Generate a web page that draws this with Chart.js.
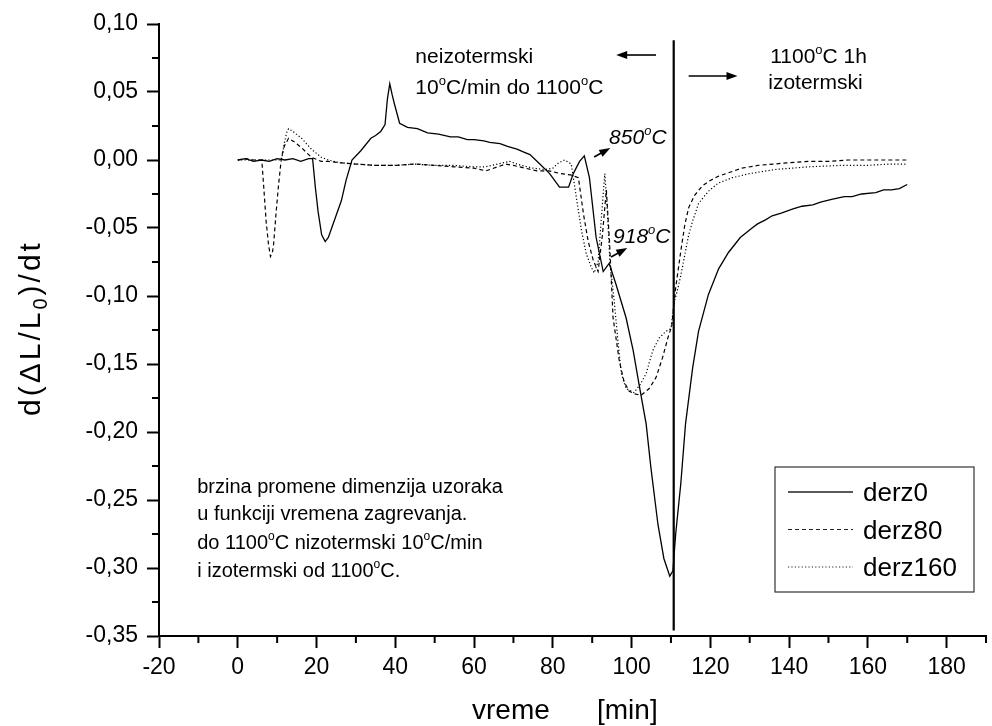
<!DOCTYPE html>
<html>
<head>
<meta charset="utf-8">
<script src="https://cdn.jsdelivr.net/npm/chart.js@4/dist/chart.umd.min.js"></script>
<style>
  body { margin: 0; background: #fff; }
  #wrap { width: 992px; height: 726px; }
</style>
</head>
<body>
<div id="wrap"><canvas id="c" width="992" height="726"></canvas></div>
<script>
// time [min] and d(dL/L0)/dt, one pair of arrays per sample
const t0 = [0, 2, 4, 6, 8, 10, 12, 14, 16, 18, 19, 19.7, 20.4, 21.3, 22.2, 23, 24.7, 26.3, 27.5, 29, 31.3, 33.8, 35, 36.3, 37.4, 38, 38.6, 39.2, 39.8, 41.1, 43.1, 45.6, 48.2, 51, 54, 56, 58.3, 60, 62.5, 64, 66.6, 68.5, 70.9, 72.5, 74.2, 76.7, 79.2, 81.7, 84, 85.2, 86.8, 88, 89.3, 91, 92.8, 94.3, 96, 98.6, 100.4, 101.9, 103.7, 104.9, 106.7, 108.2, 109.7, 110.5, 111.2, 112.5, 113.7, 115.5, 117, 119.5, 122.1, 124.6, 127.6, 130.6, 132, 134, 135.7, 138, 141, 143.3, 146, 148, 150.8, 154, 156, 158.4, 162, 164, 166, 168, 170];
const derz0 = [0.000, 0.001, -0.001, 0.000, -0.001, 0.001, 0.000, 0.001, -0.001, 0.001, 0.001, -0.020, -0.038, -0.055, -0.060, -0.057, -0.043, -0.030, -0.015, 0.000, 0.007, 0.016, 0.018, 0.021, 0.026, 0.045, 0.056, 0.048, 0.041, 0.027, 0.024, 0.023, 0.020, 0.019, 0.017, 0.017, 0.015, 0.015, 0.014, 0.013, 0.012, 0.010, 0.008, 0.006, 0.004, -0.003, -0.010, -0.020, -0.020, -0.010, -0.001, 0.003, -0.013, -0.057, -0.082, -0.076, -0.091, -0.116, -0.140, -0.165, -0.194, -0.226, -0.268, -0.293, -0.306, -0.302, -0.275, -0.238, -0.194, -0.153, -0.126, -0.099, -0.080, -0.068, -0.057, -0.050, -0.047, -0.044, -0.041, -0.039, -0.036, -0.034, -0.033, -0.031, -0.029, -0.027, -0.027, -0.025, -0.024, -0.022, -0.022, -0.021, -0.018];

const t80 = [0, 2, 4, 6.1, 6.6, 7.2, 7.8, 8.3, 8.8, 9.1, 9.7, 10.3, 11.1, 11.8, 12.9, 14.5, 16.2, 18.7, 21.2, 23, 26, 30, 35, 40, 45, 50, 55, 60, 63, 66, 68, 70, 73, 76, 79, 82, 84.5, 86.5, 87.8, 89, 90.3, 91.5, 92.6, 93.6, 94.4, 95.3, 96.9, 98.1, 99.4, 100.8, 102.4, 104.5, 106.2, 107.9, 109.2, 110.2, 111.2, 112.5, 113.5, 114.5, 116, 118, 120, 122, 125, 128, 132, 136, 140, 145, 150, 155, 160, 165, 170];
const derz80 = [0.000, 0.001, 0.000, 0.000, -0.020, -0.045, -0.062, -0.071, -0.068, -0.062, -0.040, -0.020, 0.002, 0.010, 0.016, 0.013, 0.009, 0.002, -0.001, -0.001, -0.002, -0.003, -0.004, -0.004, -0.003, -0.004, -0.005, -0.006, -0.008, -0.005, -0.003, -0.004, -0.006, -0.008, -0.008, -0.010, -0.011, -0.013, -0.040, -0.060, -0.074, -0.082, -0.055, -0.022, -0.060, -0.116, -0.148, -0.163, -0.170, -0.172, -0.173, -0.168, -0.160, -0.145, -0.131, -0.122, -0.094, -0.067, -0.048, -0.035, -0.026, -0.019, -0.015, -0.012, -0.009, -0.006, -0.004, -0.003, -0.002, -0.001, -0.001, 0.000, 0.000, 0.000, 0.000];

const t160 = [0, 3, 6, 9, 11.1, 11.8, 12.4, 12.9, 14, 16.2, 18.7, 21.2, 23, 26, 30, 35, 40, 45, 50, 55, 60, 63, 66, 69, 72, 75, 78, 80, 81.5, 83, 84.7, 86, 87.3, 88.5, 89.8, 90.5, 91.5, 92.4, 93.2, 93.8, 94.5, 95.6, 96.6, 97.4, 98.6, 100.6, 102.2, 103.7, 105.4, 107, 108.7, 110, 110.8, 111.7, 112.5, 113.5, 114.5, 115.5, 117, 119.5, 122, 125.6, 130, 136.4, 145, 153, 160, 165, 170];
const derz160 = [0.000, 0.000, 0.000, 0.000, 0.000, 0.012, 0.020, 0.023, 0.021, 0.016, 0.008, 0.002, 0.000, -0.002, -0.003, -0.004, -0.004, -0.003, -0.004, -0.004, -0.005, -0.005, -0.003, -0.001, -0.004, -0.006, -0.007, -0.006, -0.002, 0.000, -0.003, -0.028, -0.052, -0.069, -0.079, -0.083, -0.075, -0.040, -0.010, -0.035, -0.075, -0.104, -0.135, -0.157, -0.168, -0.171, -0.165, -0.157, -0.140, -0.131, -0.126, -0.124, -0.105, -0.095, -0.085, -0.070, -0.055, -0.045, -0.032, -0.023, -0.017, -0.013, -0.010, -0.007, -0.005, -0.004, -0.004, -0.003, -0.003];

// start of the isothermal hold at 1100 C
const isoStart = 110.7;
const isoLine = [0.088, -0.346];

const seriesNames = ['derz0', 'derz80', 'derz160'];
const xMin = -20, xMax = 190, xStep = 10;
const yMin = -0.35, yMax = 0.10, yStep = 0.025;

const FONT = '"Liberation Sans", Arial, sans-serif';

const zip = (xs, ys) => xs.map((x, i) => ({x: x, y: ys[i]}));
const isMajorX = v => Math.abs(v / 20 - Math.round(v / 20)) < 1e-6;
const isMajorY = v => Math.abs(v * 20 - Math.round(v * 20)) < 1e-6;

// text with '°' drawn as a small raised 'o', like the original
function richText(ctx, str, x, y, size, style) {
    let cx = x;
    const base = (style || '') + ' ' + size + 'px ' + FONT;
    const sup = (style || '') + ' ' + Math.round(size * 0.62) + 'px ' + FONT;
    for (const piece of str.split(/(°)/)) {
        if (piece === '') continue;
        if (piece === '°') {
            ctx.font = sup;
            ctx.fillText('o', cx, y - size * 0.45);
            cx += ctx.measureText('o').width;
        } else {
            ctx.font = base;
            ctx.fillText(piece, cx, y);
            cx += ctx.measureText(piece).width;
        }
    }
}

function arrow(ctx, x1, y1, x2, y2) {
    const a = Math.atan2(y2 - y1, x2 - x1);
    const hl = 11, hw = 4;
    ctx.beginPath();
    ctx.moveTo(x1, y1);
    ctx.lineTo(x2 - hl * 0.8 * Math.cos(a), y2 - hl * 0.8 * Math.sin(a));
    ctx.lineWidth = 1.6;
    ctx.stroke();
    ctx.beginPath();
    ctx.moveTo(x2, y2);
    ctx.lineTo(x2 - hl * Math.cos(a) + hw * Math.sin(a), y2 - hl * Math.sin(a) - hw * Math.cos(a));
    ctx.lineTo(x2 - hl * Math.cos(a) - hw * Math.sin(a), y2 - hl * Math.sin(a) + hw * Math.cos(a));
    ctx.closePath();
    ctx.fill();
}

const extras = {
    id: 'extras',
    afterDraw(chart) {
        const ctx = chart.ctx;
        const xs = chart.scales.x, ys = chart.scales.y;
        const X = v => xs.getPixelForValue(v), Y = v => ys.getPixelForValue(v);
        const ca = chart.chartArea;
        ctx.save();
        ctx.strokeStyle = '#000';
        ctx.fillStyle = '#000';
        ctx.textBaseline = 'alphabetic';
        ctx.textAlign = 'left';

        // minor ticks
        ctx.lineWidth = 2;
        ctx.beginPath();
        for (let v = xMin; v <= xMax + 1e-9; v += xStep) {
            if (isMajorX(v)) continue;
            ctx.moveTo(X(v), ca.bottom);
            ctx.lineTo(X(v), ca.bottom + 7);
        }
        for (let v = yMin; v <= yMax + 1e-9; v += yStep) {
            if (isMajorY(v)) continue;
            ctx.moveTo(ca.left, Y(v));
            ctx.lineTo(ca.left - 7, Y(v));
        }
        ctx.stroke();

        // notes
        richText(ctx, 'neizotermski', X(45.1), Y(0.0713), 21);
        richText(ctx, '10°C/min do 1100°C', X(45.1), Y(0.0485), 21);
        richText(ctx, '1100°C 1h', X(135.2), Y(0.0713), 21);
        richText(ctx, 'izotermski', X(134.7), Y(0.0522), 21);
        richText(ctx, '850°C', X(94.3), Y(0.0118), 21, 'italic');
        richText(ctx, '918°C', X(95.3), Y(-0.0610), 21, 'italic');
        arrow(ctx, X(106.2), Y(0.0772), X(96.1), Y(0.0772));
        arrow(ctx, X(114.5), Y(0.0618), X(126.9), Y(0.0618));
        arrow(ctx, X(90.5), Y(0.0022), X(94.6), Y(0.0088));
        arrow(ctx, X(94.8), Y(-0.0713), X(98.9), Y(-0.0647));

        const note = ['brzina promene dimenzija uzoraka', 'u funkciji vremena zagrevanja.',
                      'do 1100°C nizotermski 10°C/min', 'i izotermski od 1100°C.'];
        const noteY = [-0.2449, -0.2647, -0.2860, -0.3066];
        note.forEach((s, i) => richText(ctx, s, X(-10.3), Y(noteY[i]), 20));

        // legend box
        const lx = ca.right - 211, ly = ca.bottom - 169, lw = 199, lh = 125;
        ctx.lineWidth = 1.2;
        ctx.strokeStyle = '#333';
        ctx.strokeRect(lx, ly, lw, lh);
        chart.data.datasets.slice(0, 3).forEach((ds, i) => {
            const yy = ly + 25 + i * 37.5;
            ctx.beginPath();
            ctx.setLineDash(ds.borderDash || []);
            ctx.lineWidth = ds.borderWidth;
            ctx.strokeStyle = '#222';
            ctx.moveTo(lx + 13, yy);
            ctx.lineTo(lx + 78, yy);
            ctx.stroke();
            ctx.setLineDash([]);
            ctx.font = '26px ' + FONT;
            ctx.fillText(ds.label, lx + 88, yy + 9);
        });

        // axis titles
        ctx.font = '28px ' + FONT;
        ctx.textAlign = 'left';
        ctx.fillText('vreme', 472, 719);
        ctx.fillText('[min]', 597, 719);

        ctx.translate(40, 328);
        ctx.rotate(-Math.PI / 2);
        ctx.letterSpacing = '3px';
        const parts = [['d(ΔL/L', 30, 0], ['0', 20, 7], [')/dt', 30, 0]];
        let w = 0;
        parts.forEach(p => { ctx.font = p[1] + 'px ' + FONT; w += ctx.measureText(p[0]).width; });
        let cx = -w / 2;
        parts.forEach(p => {
            ctx.font = p[1] + 'px ' + FONT;
            ctx.fillText(p[0], cx, p[2]);
            cx += ctx.measureText(p[0]).width;
        });
        ctx.restore();
    }
};

const ctx = document.getElementById('c').getContext('2d');
const chart = new Chart(ctx, {
    type: 'line',
    data: {
        datasets: [
            { label: seriesNames[0], data: zip(t0, derz0), borderColor: '#000', borderWidth: 1.3 },
            { label: seriesNames[1], data: zip(t80, derz80), borderColor: '#000', borderWidth: 1.2, borderDash: [4, 3] },
            { label: seriesNames[2], data: zip(t160, derz160), borderColor: '#000', borderWidth: 1.2, borderDash: [1.2, 2.2] },
            { label: 'iso', data: zip([isoStart, isoStart], isoLine), borderColor: '#000', borderWidth: 2.2 }
        ]
    },
    options: {
        responsive: false,
        animation: false,
        events: [],
        elements: { point: { radius: 0 }, line: { tension: 0, fill: false } },
        layout: { padding: { top: 24, right: 2, left: 0, bottom: 0 } },
        plugins: { legend: { display: false }, tooltip: { enabled: false } },
        scales: {
            x: {
                type: 'linear',
                min: xMin, max: xMax,
                afterFit: s => { s.height = 90; },
                border: { display: true, color: '#000', width: 2 },
                grid: {
                    drawOnChartArea: false, drawTicks: true, tickLength: 12, tickWidth: 2,
                    tickColor: c => (c.tick && isMajorX(c.tick.value)) ? '#000' : 'rgba(0,0,0,0)'
                },
                ticks: {
                    stepSize: xStep, autoSkip: false, maxRotation: 0, padding: 6,
                    color: '#000', font: { family: FONT, size: 23 },
                    callback: v => isMajorX(v) ? String(Math.round(v)) : ''
                }
            },
            y: {
                min: yMin, max: yMax,
                afterFit: s => { s.width = 159; },
                border: { display: true, color: '#000', width: 2 },
                grid: {
                    drawOnChartArea: false, drawTicks: true, tickLength: 12, tickWidth: 2,
                    tickColor: c => (c.tick && isMajorY(c.tick.value)) ? '#000' : 'rgba(0,0,0,0)'
                },
                ticks: {
                    stepSize: yStep, autoSkip: false, padding: 9,
                    color: '#000', font: { family: FONT, size: 23 },
                    callback: v => isMajorY(v) ? v.toFixed(2).replace('.', ',').replace('-0,00', '0,00') : ''
                }
            }
        }
    },
    plugins: [extras]
});
</script>
</body>
</html>
